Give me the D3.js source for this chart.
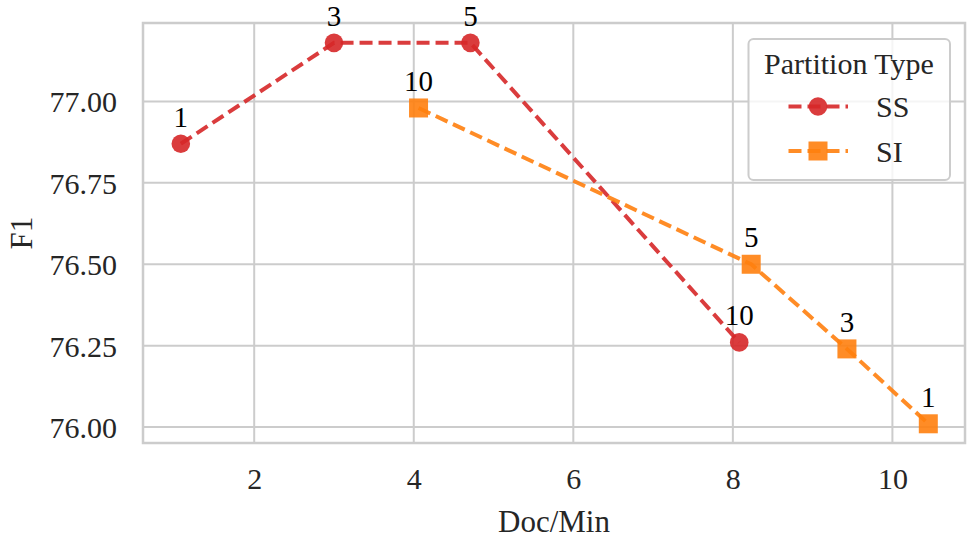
<!DOCTYPE html>
<html>
<head>
<meta charset="utf-8">
<script src="https://cdn.jsdelivr.net/npm/d3@7"></script>
<style>
  body { margin: 0; background: #fff; }
  svg text { font-family: "Liberation Serif", "Times New Roman", serif !important; fill: #262626; }
</style>
</head>
<body>
<svg id="chart" width="967" height="538"></svg>
<script>
// Throughput (documents per minute) vs. F1 for two partition strategies
const ssDocMin = [1.08, 3.00, 4.71, 8.08];
const ssF1     = [76.87, 77.18, 77.18, 76.26];
const ssLabels = ["1", "3", "5", "10"];

const siDocMin = [4.06, 8.23, 9.43, 10.45];
const siF1     = [76.98, 76.50, 76.24, 76.01];
const siLabels = ["10", "5", "3", "1"];

const xTicks = [2, 4, 6, 8, 10];
const yTicks = [76.00, 76.25, 76.50, 76.75, 77.00];

const seriesNames = ["SS", "SI"];
const seriesColors = ["#d62728", "#ff7f0e"];

const serif = "'Liberation Serif', 'Times New Roman', serif";
const svg = d3.select("#chart");
const plotLeft = 143, plotRight = 965, plotTop = 23, plotBottom = 443;

const x = d3.scaleLinear().domain([0.606, 10.91]).range([plotLeft, plotRight]);
const y = d3.scaleLinear().domain([75.951, 77.241]).range([plotBottom, plotTop]);

// grid
const grid = svg.append("g");
grid.selectAll("line.v").data(xTicks).join("line")
  .attr("x1", d => x(d)).attr("x2", d => x(d))
  .attr("y1", plotTop).attr("y2", plotBottom)
  .attr("stroke", "#cccccc").attr("stroke-width", 2);
grid.selectAll("line.h").data(yTicks).join("line")
  .attr("x1", plotLeft).attr("x2", plotRight)
  .attr("y1", d => y(d)).attr("y2", d => y(d))
  .attr("stroke", "#cccccc").attr("stroke-width", 2);

// frame
svg.append("rect").attr("x", plotLeft).attr("y", plotTop)
  .attr("width", plotRight - plotLeft).attr("height", plotBottom - plotTop)
  .attr("fill", "none").attr("stroke", "#cccccc").attr("stroke-width", 2.5);

// axes
const xAxis = d3.axisBottom(x).tickValues(xTicks).tickSize(0).tickPadding(25).tickFormat(d3.format("d"));
const yAxis = d3.axisLeft(y).tickValues(yTicks).tickSize(0).tickPadding(26).tickFormat(d3.format(".2f"));
const gx = svg.append("g").attr("transform", `translate(0,${plotBottom})`).call(xAxis);
const gy = svg.append("g").attr("transform", `translate(${plotLeft},0)`).call(yAxis);
[gx, gy].forEach(g => {
  g.attr("font-family", serif);
  g.select(".domain").remove();
  g.selectAll("text").attr("font-size", 30).attr("fill", "#262626")
    .style("font-family", serif);
});
gy.selectAll("text").attr("dy", "0.35em");

svg.append("text").attr("x", (plotLeft + plotRight) / 2).attr("y", 532)
  .attr("text-anchor", "middle").attr("font-size", 31).style("font-family", serif).text("Doc/Min");
svg.append("text").attr("transform", `translate(32,${(plotTop + plotBottom) / 2}) rotate(-90)`)
  .attr("text-anchor", "middle").attr("font-size", 31).style("font-family", serif).text("F1");

const line = d3.line().x(d => x(d[0])).y(d => y(d[1]));

function drawSeries(xs, ys, labels, color, shape) {
  const pts = xs.map((v, i) => [v, ys[i], labels[i]]);
  svg.append("path").datum(pts)
    .attr("d", line).attr("fill", "none")
    .attr("stroke", color).attr("stroke-opacity", 0.9)
    .attr("stroke-width", 4).attr("stroke-dasharray", "13,6");
  const g = svg.append("g");
  if (shape === "circle") {
    g.selectAll("circle").data(pts).join("circle")
      .attr("cx", d => x(d[0])).attr("cy", d => y(d[1])).attr("r", 9.3)
      .attr("fill", color).attr("fill-opacity", 0.9);
  } else {
    g.selectAll("rect").data(pts).join("rect")
      .attr("x", d => x(d[0]) - 9.5).attr("y", d => y(d[1]) - 9.5)
      .attr("width", 19).attr("height", 19)
      .attr("fill", color).attr("fill-opacity", 0.9);
  }
  g.selectAll("text").data(pts).join("text")
    .attr("x", d => x(d[0])).attr("y", d => y(d[1]) - 17)
    .attr("text-anchor", "middle").attr("font-size", 29)
    .style("font-family", serif).style("fill", "#000").text(d => d[2]);
}

drawSeries(ssDocMin, ssF1, ssLabels, seriesColors[0], "circle");
drawSeries(siDocMin, siF1, siLabels, seriesColors[1], "square");

// legend
const lg = svg.append("g");
lg.append("rect").attr("x", 748.5).attr("y", 39).attr("width", 201.5).attr("height", 141)
  .attr("rx", 5).attr("fill", "#fff").attr("fill-opacity", 0.8)
  .attr("stroke", "#cccccc").attr("stroke-width", 2);
lg.append("text").attr("x", 849).attr("y", 74).attr("text-anchor", "middle")
  .attr("font-size", 30).style("font-family", serif).text("Partition Type");
seriesNames.forEach((name, i) => {
  const cy = 106.5 + i * 44.5;
  lg.append("line").attr("x1", 788).attr("x2", 848).attr("y1", cy).attr("y2", cy)
    .attr("stroke", seriesColors[i]).attr("stroke-opacity", 0.9)
    .attr("stroke-width", 4).attr("stroke-dasharray", "13,6").attr("stroke-dashoffset", -0.5);
  if (i === 0) {
    lg.append("circle").attr("cx", 818).attr("cy", cy).attr("r", 9.3)
      .attr("fill", seriesColors[i]).attr("fill-opacity", 0.9);
  } else {
    lg.append("rect").attr("x", 808.5).attr("y", cy - 9.5).attr("width", 19).attr("height", 19)
      .attr("fill", seriesColors[i]).attr("fill-opacity", 0.9);
  }
  lg.append("text").attr("x", 876).attr("y", cy + 10.5).attr("font-size", 30)
    .style("font-family", serif).text(name);
});
</script>
</body>
</html>
